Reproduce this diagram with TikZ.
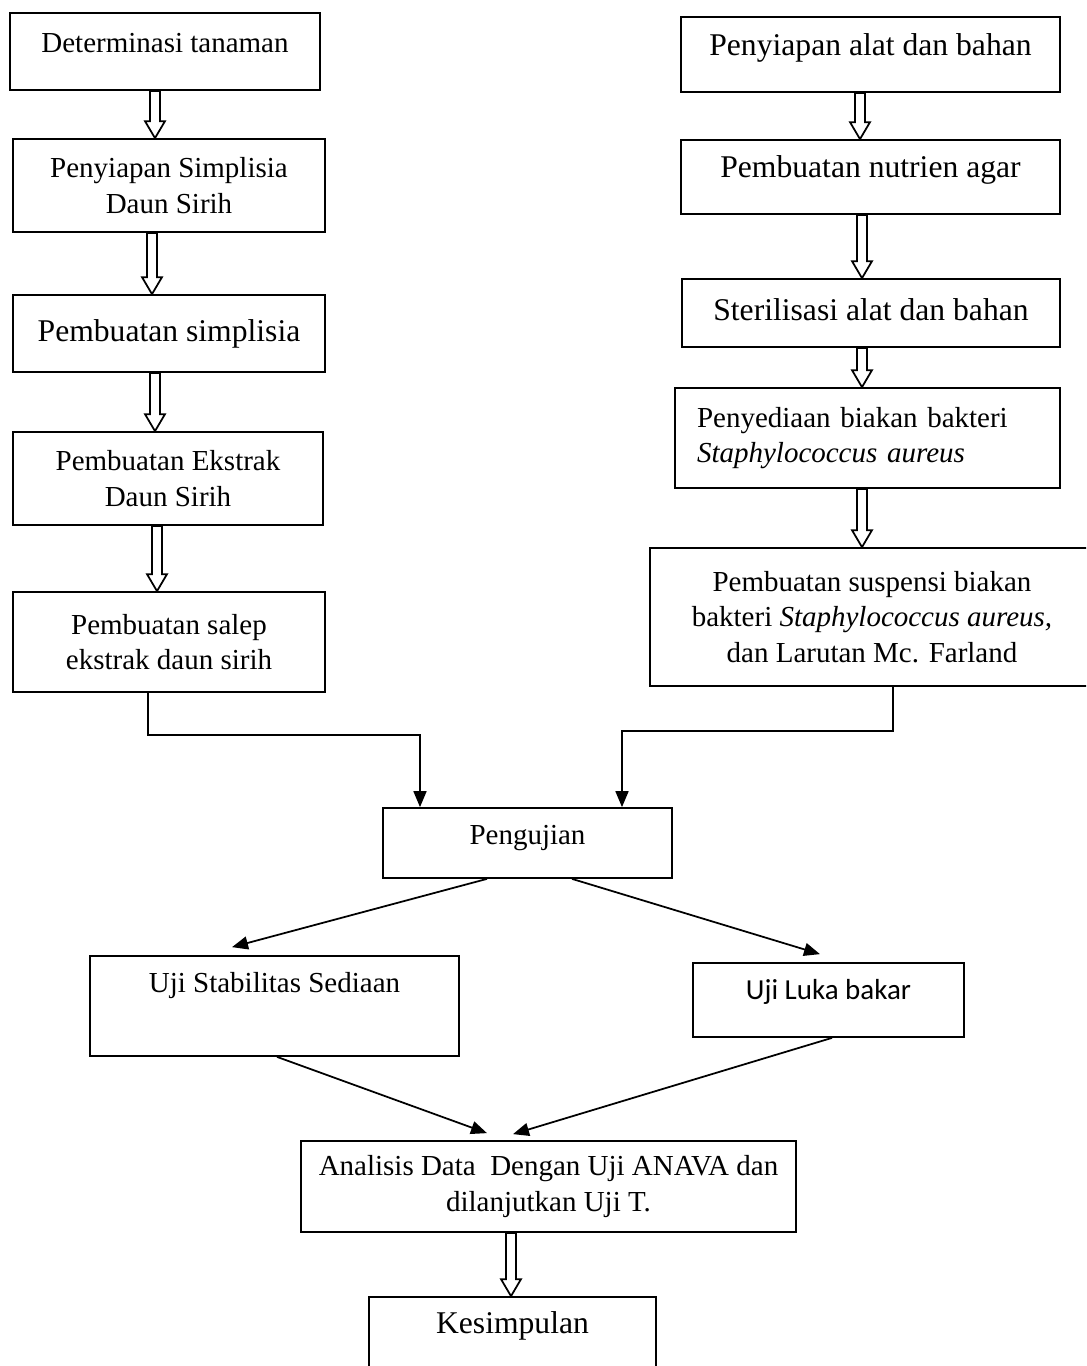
\documentclass[tikz,border=0pt]{standalone}
\usepackage{fontspec}
\setmainfont{Liberation Serif}
\newfontfamily\calibrifont{Carlito}
\usetikzlibrary{arrows.meta,calc}
\tikzset{
    box/.style={
        draw,line width=1pt,align=center,
        font=\fontsize{16.5}{20.4}\selectfont
    },
    bigbox/.style={
        box,font=\fontsize{18}{22}\selectfont
    },
    hollow/.style={
        draw,line width=1pt,fill=white,line join=miter
    },
    arrow/.style={
        -{Triangle[length=3.2mm,width=2.6mm]},line width=1pt
    }
}
\newcommand{\blockarrow}[3]{%
  \path (#1,0 |- #2.south) coordinate (ba) (#1,0 |- #3.north) coordinate (bb);
  \draw[hollow] ($(ba)+(-5,0)$) -- ($(bb)+(-5,-17)$) -- ($(bb)+(-10,-17)$)
    -- (bb) -- ($(bb)+(10,-17)$) -- ($(bb)+(5,-17)$) -- ($(ba)+(5,0)$) -- cycle;}

\begin{document}
\begin{tikzpicture}[x=0.02cm,y=-0.02cm]

\useasboundingbox (0,0) rectangle (1086,1366);
\clip (0,0) rectangle (1086,1366);

\node[box,minimum width=6.2cm,minimum height=1.54cm,text depth=10pt]
(det) at (165,51.5) {Determinasi tanaman};

\node[box,minimum width=6.24cm,minimum height=1.86cm]
(simp) at (169,185.5) {Penyiapan Simplisia\\Daun Sirih};

\node[bigbox,minimum width=6.24cm,minimum height=1.54cm]
(pbs) at (169,333.5) {Pembuatan simplisia};

\node[box,minimum width=6.2cm,minimum height=1.86cm]
(ekstrak) at (168,478.5) {Pembuatan Ekstrak\\Daun Sirih};

\node[box,minimum width=6.24cm,minimum height=2cm]
(salep) at (169,642) {Pembuatan salep\\ekstrak daun sirih};

\node[bigbox,minimum width=7.58cm,minimum height=1.5cm,text depth=11pt]
(alat) at (870.5,54.5) {Penyiapan alat dan bahan};

\node[bigbox,minimum width=7.58cm,minimum height=1.48cm,text depth=12pt]
(agar) at (870.5,177) {Pembuatan nutrien agar};

\node[bigbox,minimum width=7.56cm,minimum height=1.36cm,text depth=4.5pt]
(steril) at (871,313) {Sterilisasi alat dan bahan};

\node[box,align=left,text width=6.82cm,minimum width=7.7cm,minimum height=2cm]
(biakan) at (867.5,438)
{Penyediaan biakan bakteri\\\textit{Staphylococcus aureus}};

\node[box,minimum width=8.88cm,minimum height=2.76cm]
(susp) at (872,617)
{Pembuatan suspensi biakan\\bakteri \textit{Staphylococcus aureus,}\\dan Larutan Mc. Farland};

\node[box,minimum width=5.78cm,minimum height=1.4cm,text depth=9.3pt]
(uji) at (527.5,843) {Pengujian};

\node[box,minimum width=7.38cm,minimum height=2cm,text depth=27pt]
(stab) at (274.5,1006) {Uji Stabilitas Sediaan};

\node[box,font=\calibrifont\fontsize{16.5}{20}\selectfont,
minimum width=5.42cm,minimum height=1.48cm,text depth=12pt]
(luka) at (828.5,1000) {Uji Luka bakar};

\node[box,minimum width=9.9cm,minimum height=1.82cm]
(anova) at (548.5,1186.5)
{Analisis Data\ \ Dengan Uji ANAVA dan\\dilanjutkan Uji T.};

\node[bigbox,minimum width=5.74cm,minimum height=2.06cm,text depth=29.5pt]
(kes) at (512.5,1348.5) {Kesimpulan};

\blockarrow{155}{det}{simp}
\blockarrow{152}{simp}{pbs}
\blockarrow{155}{pbs}{ekstrak}
\blockarrow{157}{ekstrak}{salep}
\blockarrow{860}{alat}{agar}
\blockarrow{862}{agar}{steril}
\blockarrow{862}{steril}{biakan}
\blockarrow{862}{biakan}{susp}
\blockarrow{511}{anova}{kes}

\draw[arrow](148,0 |- salep.south) |- (420,735) -- (420,0 |- uji.north);
\draw[arrow](893,0 |- susp.south) |- (622,731) -- (622,0 |- uji.north);

\draw[arrow](487,0 |- uji.south) -- ($(232,0 |- stab.north)+(0,-8)$);
\draw[arrow](572,0 |- uji.south) -- ($(820,0 |- luka.north)+(0,-8)$);
\draw[arrow](277,0 |- stab.south) -- ($(487,0 |- anova.north)+(0,-7)$);
\draw[arrow](832,0 |- luka.south) -- ($(513,0 |- anova.north)+(0,-6)$);

\end{tikzpicture}
\end{document}
